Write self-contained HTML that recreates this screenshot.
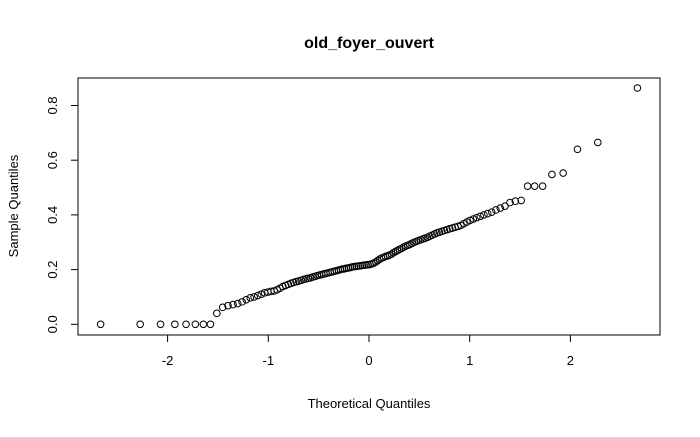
<!DOCTYPE html>
<html><head><meta charset="utf-8"><style>
body{margin:0;background:#fff}
svg text{font-family:"Liberation Sans",Arial,sans-serif;fill:#000}
</style></head><body>
<svg id="chart" width="700" height="432" viewBox="0 0 700 432">
<rect width="700" height="432" fill="#fff"/>
<text x="369" y="48" font-size="16" font-weight="bold" text-anchor="middle">old_foyer_ouvert</text>
<rect x="78" y="78" width="582" height="257" fill="none" stroke="#000"/>
<text x="369" y="408" font-size="13" text-anchor="middle">Theoretical Quantiles</text>
<text transform="translate(18,206) rotate(-90)" font-size="13" text-anchor="middle">Sample Quantiles</text>
<g id="axes"></g><g id="pts"></g>
</svg>
<script>
const sampleValues=[0,0,0,0,0,0,0,0,
.04,.062,.068,.072,.076,.082,.09,.097,.1,.105,.11,.115,.118,.12,.122,.126,.132,.138,.142,.146,.15,.153,
.156,.158,.161,.164,.166,.168,.17,.173,.175,.178,.18,.182,.184,.186,.188,.19,.192,.194,.196,.198,
.2,.202,.203,.205,.206,.208,.21,.211,.212,.213,.214,.215,.216,.217,.218,.219,.221,.224,.228,.233,
.238,.242,.245,.248,.25,.253,.257,.262,.266,.27,.274,.278,.282,.286,.289,.292,.296,.3,.303,.306,
.309,.312,.315,.318,.322,.326,.33,.334,.337,.34,.343,.346,.349,.352,.355,.358,.362,.368,.374,.38,
.385,.39,.395,.4,.405,.41,.418,.425,.432,
.445,.45,.453,.505,.505,.505,.548,.553,.64,.665,.864];
const xTicks=[-2,-1,0,1,2];
const yTicks=[0,0.2,0.4,0.6,0.8];
const yTickLabels=["0.0","0.2","0.4","0.6","0.8"];
function xs(v){return 369+v*100.7;}
function ys(v){return 324.3-v*273.5;}
function qnorm(p){
 const a=[-39.6968302866538,220.946098424521,-275.928510446969,138.357751867269,-30.6647980661472,2.50662827745924],
 b=[-54.4760987982241,161.585836858041,-155.698979859887,66.8013118877197,-13.2806815528857],
 c=[-0.00778489400243029,-0.322396458041136,-2.40075827716184,-2.54973253934373,4.37466414146497,2.93816398269878],
 d=[0.00778469570904146,0.32246712907004,2.445134137143,3.75440866190742];
 let q,r;
 if(p<0.02425){q=Math.sqrt(-2*Math.log(p));return (((((c[0]*q+c[1])*q+c[2])*q+c[3])*q+c[4])*q+c[5])/((((d[0]*q+d[1])*q+d[2])*q+d[3])*q+1);}
 if(p>1-0.02425){q=Math.sqrt(-2*Math.log(1-p));return -(((((c[0]*q+c[1])*q+c[2])*q+c[3])*q+c[4])*q+c[5])/((((d[0]*q+d[1])*q+d[2])*q+d[3])*q+1);}
 q=p-0.5;r=q*q;return (((((a[0]*r+a[1])*r+a[2])*r+a[3])*r+a[4])*r+a[5])*q/(((((b[0]*r+b[1])*r+b[2])*r+b[3])*r+b[4])*r+1);
}
const NS="http://www.w3.org/2000/svg";
const ax=document.getElementById('axes'),pg=document.getElementById('pts');
function mk(t,at,par){const e=document.createElementNS(NS,t);for(const k in at)e.setAttribute(k,at[k]);par.appendChild(e);return e;}
mk('line',{x1:xs(-2),x2:xs(2),y1:335,y2:335,stroke:'#000'},ax);
xTicks.forEach(v=>{
 const l=mk('line',{x1:xs(v),x2:xs(v),y1:335,y2:342,stroke:'#000'},ax);
 
 
 const t=mk('text',{x:xs(v),y:365,'font-size':13,'text-anchor':'middle'},ax);t.textContent=v===0?'0':String(v);
 
 
});
mk('line',{x1:78,x2:78,y1:ys(0),y2:ys(0.8),stroke:'#000'},ax);
yTicks.forEach((v,i)=>{
 const l=mk('line',{x1:71,x2:78,y1:ys(v),y2:ys(v),stroke:'#000'},ax);
 
 
 const t=mk('text',{transform:`translate(57,${ys(v)}) rotate(-90)`,'font-size':13,'text-anchor':'middle'},ax);t.textContent=yTickLabels[i];
 
 
});
const vals=sampleValues.slice().sort((a,b)=>a-b),n=vals.length;
vals.forEach((v,i)=>{
 const p=n>10?(i+0.5)/n:(i+1-0.375)/(n+0.25);
 const c=mk('circle',{cx:xs(qnorm(p)),cy:ys(v),r:3.3,fill:'none',stroke:'#000','stroke-width':1},pg);
 
 
});
</script>
</body></html>
